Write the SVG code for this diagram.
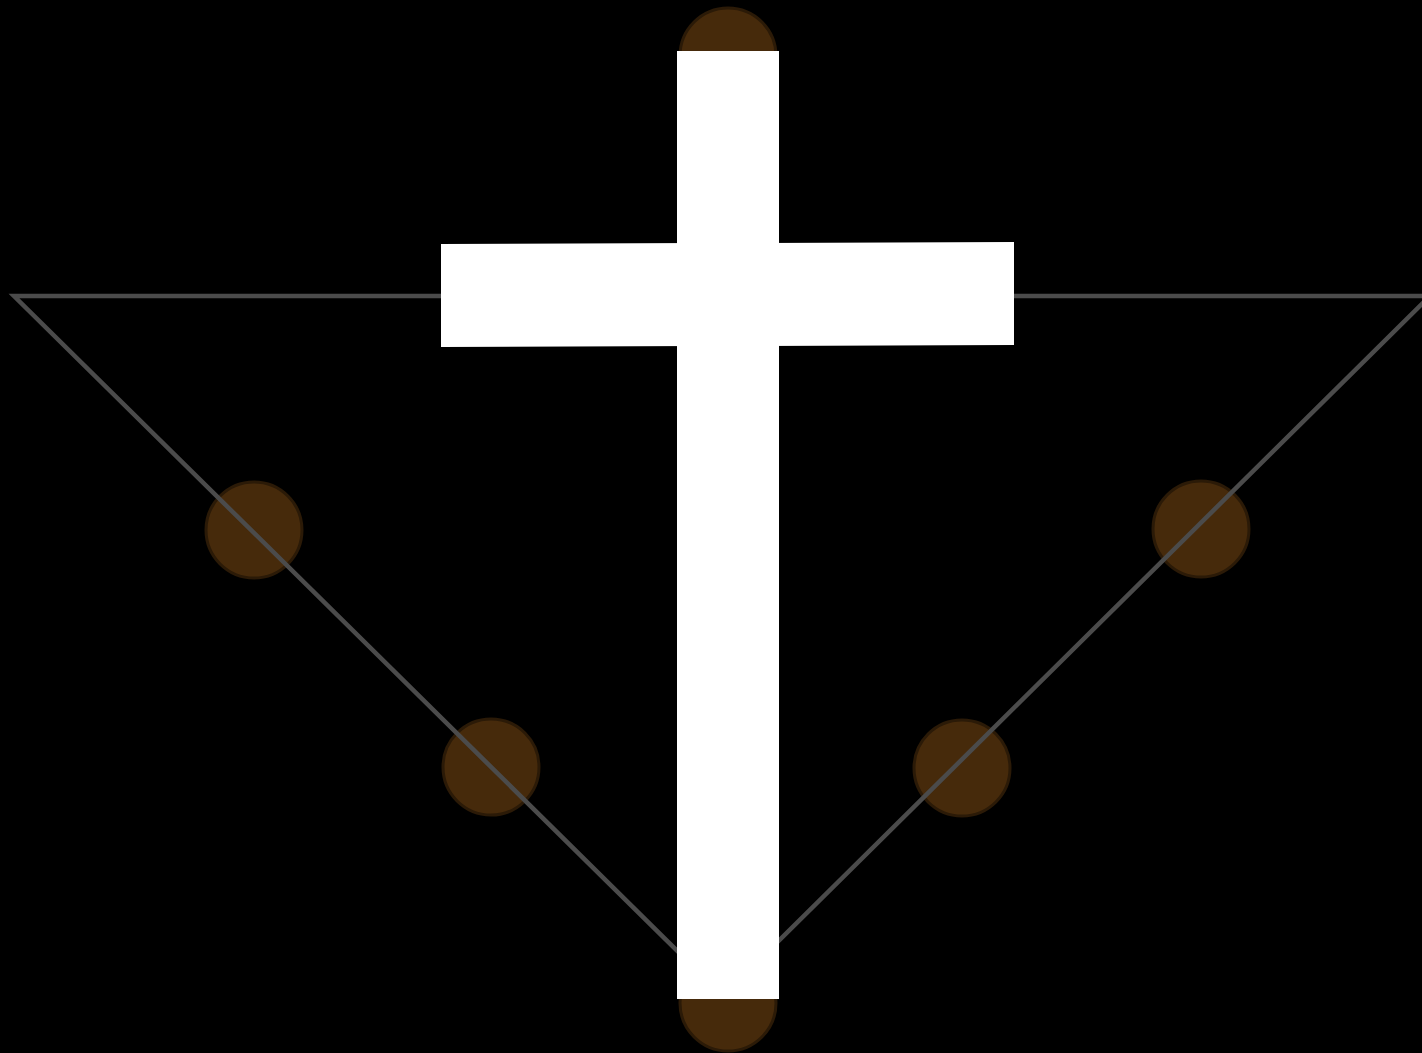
<svg xmlns="http://www.w3.org/2000/svg" width="1422" height="1053" viewBox="0 0 1422 1053">
<style>
.bead{fill:#462a0b;stroke:#2b1a07;stroke-width:3}
.line{stroke:#4b4b4b;stroke-width:4.5;fill:none;stroke-linejoin:miter}
.cross{fill:#ffffff}
</style>
<rect width="1422" height="1053" fill="#000"/>
<g id="beads">
<circle id="bead-top" class="bead" cx="728" cy="56" r="48"/>
<circle id="bead-bottom" class="bead" cx="728" cy="1003" r="48"/>
<circle id="bead-l1" class="bead" cx="254" cy="530" r="48"/>
<circle id="bead-l2" class="bead" cx="491" cy="767" r="48"/>
<circle id="bead-r1" class="bead" cx="1201" cy="529" r="48"/>
<circle id="bead-r2" class="bead" cx="962" cy="768" r="48"/>
</g>
<g id="connectors">
<path class="line" d="M1440,296 L14,296 L723,996 L1430,296"/>
</g>
<g id="cross">
<rect class="cross" x="677" y="51" width="102" height="948"/>
<polygon class="cross" points="441,244 1014,242 1014,345 441,347"/>
</g>
</svg>
